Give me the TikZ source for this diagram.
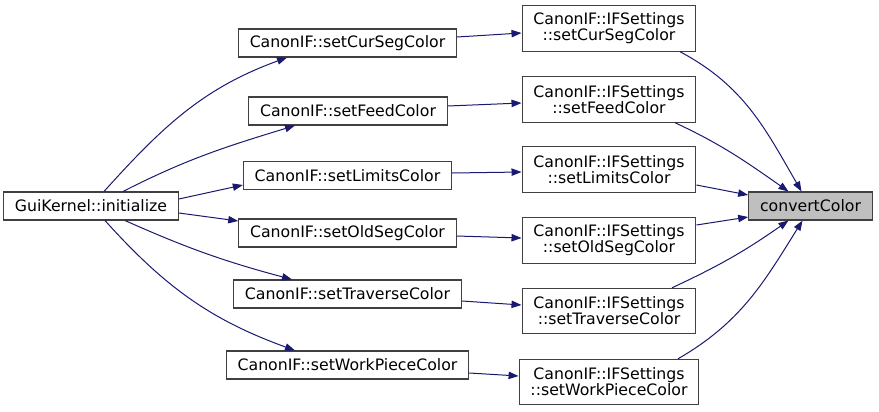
\documentclass[tikz,border=0pt]{standalone}
\usepackage{fontspec}
\setmainfont{DejaVu Sans}
\usetikzlibrary{arrows.meta,calc}
\definecolor{edgeBlue}{HTML}{191970}
\colorlet{boxGray}{black!25}
\colorlet{lineGray}{black!75}

\begin{document}
\begin{tikzpicture}[x=0.75pt, y=-0.75pt,
    every node/.style={font=\fontsize{11.8}{12}\selectfont},
    box/.style={draw=lineGray, line width=0.8pt, fill=white, inner xsep=8.5pt, minimum height=21pt, align=center},
    box2/.style={box, minimum height=34pt},
    call/.style={draw=edgeBlue, line width=0.75pt, -{Triangle[length=7.5pt,width=5.5pt]}}]
  \useasboundingbox (0,0) rectangle (879,411);
  % caller on the left
  \node[box] (gk) at (91,206) {GuiKernel::initialize};
  % CanonIF column
  \node[box] (cur) at (347.5,43) {CanonIF::setCurSegColor};
  \node[box] (feed) at (348,111) {CanonIF::setFeedColor};
  \node[box] (lim) at (347.5,175.5) {CanonIF::setLimitsColor};
  \node[box] (old) at (347.5,233) {CanonIF::setOldSegColor};
  \node[box] (trav) at (347.5,294) {CanonIF::setTraverseColor};
  \node[box] (work) at (347.5,365) {CanonIF::setWorkPieceColor};
  % IFSettings column
  \node[box2] (s1) at (609,28.5) {CanonIF::IFSettings\\::setCurSegColor};
  \node[box2] (s2) at (609,99.5) {CanonIF::IFSettings\\::setFeedColor};
  \node[box2] (s3) at (609,169.5) {CanonIF::IFSettings\\::setLimitsColor};
  \node[box2] (s4) at (609,240.5) {CanonIF::IFSettings\\::setOldSegColor};
  \node[box2] (s5) at (609,311) {CanonIF::IFSettings\\::setTraverseColor};
  \node[box2] (s6) at (609,382) {CanonIF::IFSettings\\::setWorkPieceColor};
  % the function itself
  \node[box, fill=boxGray] (cc) at (810.5,206) {convertColor};

  % initialize -> CanonIF
  \draw[call] ($(gk.north)+(13,0)$) to[out=48, in=-160] ($(cur.south)+(-60.5,0)$);
  \draw[call] ($(gk.north)+(32,0)$) to[out=27, in=-163] ($(feed.south)+(-53,0)$);
  \draw[call] ($(gk.east)+(0,-7)$) -- ($(lim.west)+(0,9.5)$);
  \draw[call] ($(gk.east)+(0,7)$) -- ($(old.west)+(0,-12)$);
  \draw[call] ($(gk.south)+(34,0)$) to[out=-24, in=165] ($(trav.north)+(-55.5,0)$);
  \draw[call] ($(gk.south)+(14,0)$) to[out=-48, in=160] ($(work.north)+(-52.5,0)$);

  % CanonIF -> IFSettings
  \draw[call] ($(cur.east)+(0,-6)$) -- ($(s1.west)+(0,4.5)$);
  \draw[call] ($(feed.east)+(0,-5)$) -- ($(s2.west)+(0,3.5)$);
  \draw[call] ($(lim.east)+(0,-2.5)$) -- ($(s3.west)+(0,2.5)$);
  \draw[call] ($(old.east)+(0,3)$) -- ($(s4.west)+(0,-2.5)$);
  \draw[call] ($(trav.east)+(0,7)$) -- ($(s5.west)+(0,-6)$);
  \draw[call] ($(work.east)+(0,8)$) -- ($(s6.west)+(0,-6)$);

  % IFSettings -> convertColor
  \draw[call] ($(s1.south)+(71,0)$) to[out=-28, in=120] ($(cc.north)+(-9,0)$);
  \draw[call] ($(s2.south)+(66,0)$) to[out=-25, in=145] ($(cc.north)+(-22,0)$);
  \draw[call] ($(s3.east)+(0,15.5)$) -- ($(cc.west)+(0,-11)$);
  \draw[call] ($(s4.east)+(0,-15.5)$) -- ($(cc.west)+(0,11)$);
  \draw[call] ($(s5.north)+(63,0)$) to[out=25, in=-145] ($(cc.south)+(-22,0)$);
  \draw[call] ($(s6.north)+(69,0)$) to[out=30, in=-122] ($(cc.south)+(-8,0)$);
\end{tikzpicture}
\end{document}
